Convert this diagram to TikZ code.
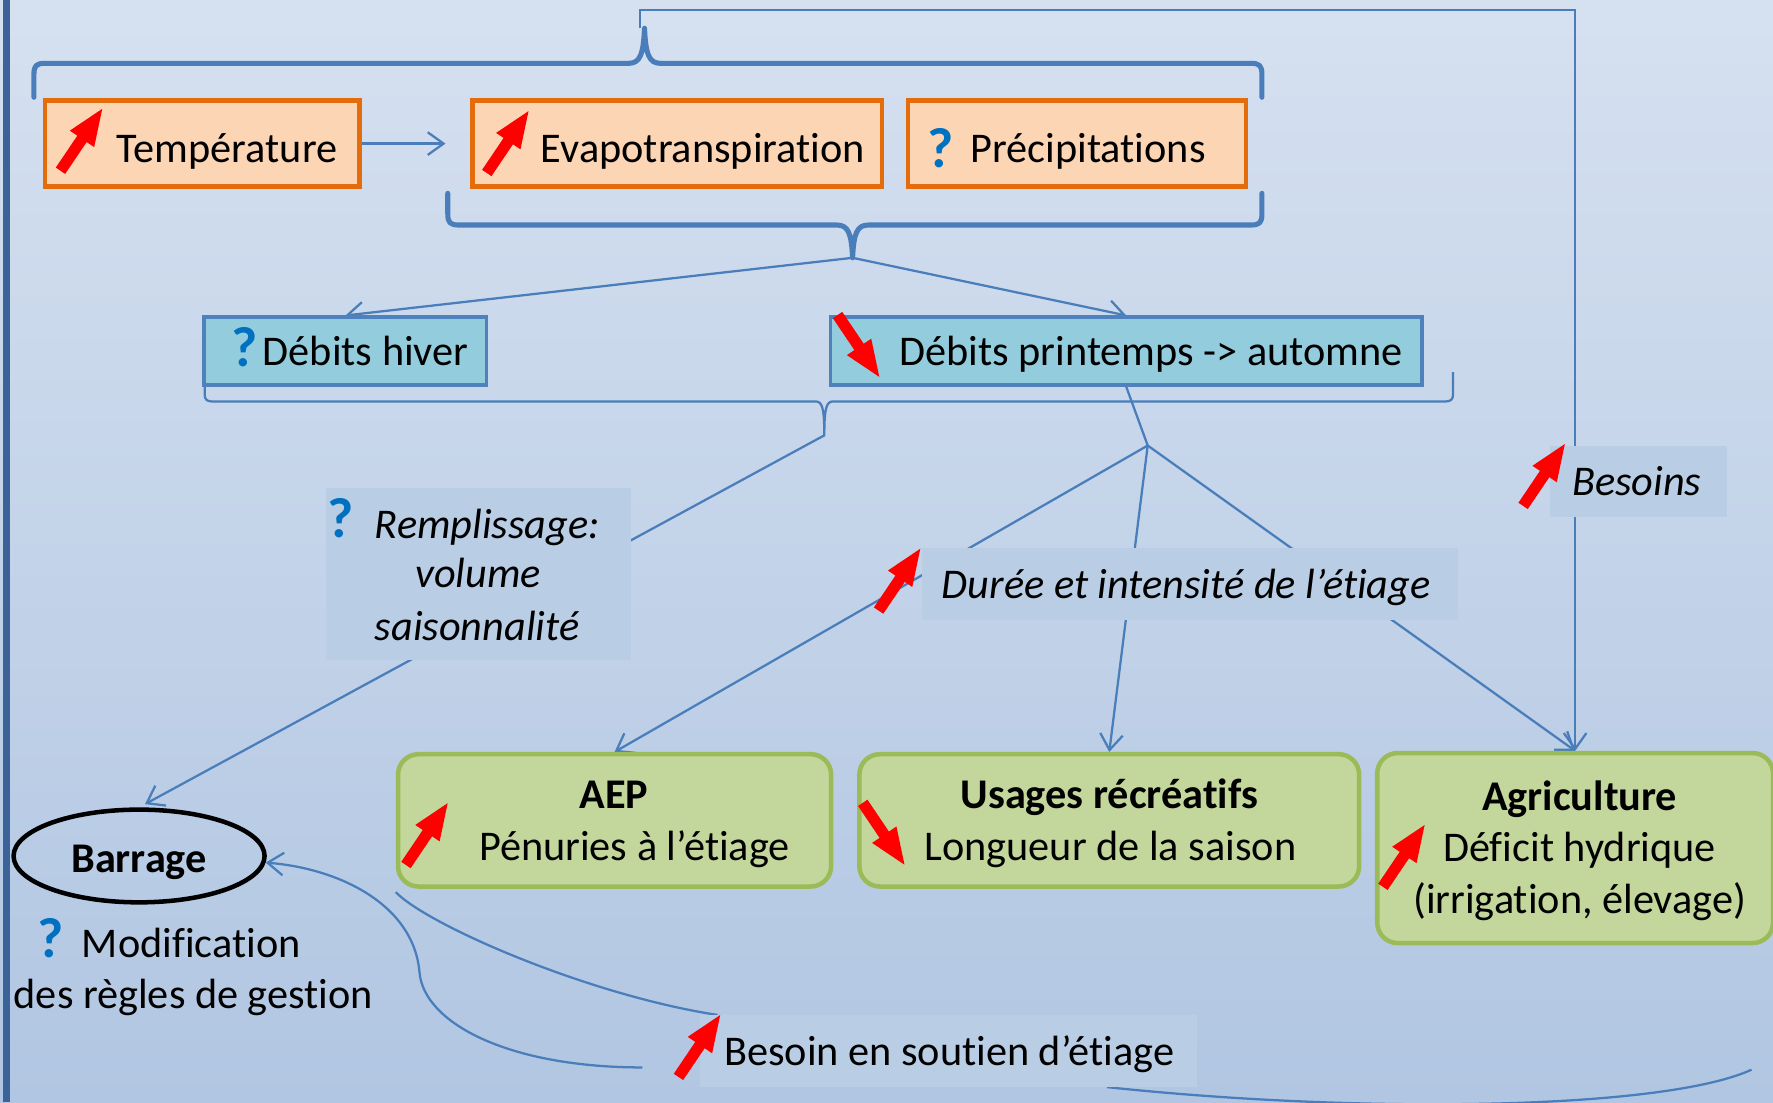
\documentclass[tikz,border=0pt]{standalone}
\usepackage{fontspec}
\setmainfont{Carlito}[RawFeature={-liga;-clig;-calt}]
\usetikzlibrary{arrows.meta,shapes.geometric,calc}
\definecolor{bgtop}{HTML}{E8EEF7}
\definecolor{bgmid}{HTML}{B1C6E2}
\definecolor{bgbot}{HTML}{B8CBE5}
\definecolor{barblue}{HTML}{3B6399}
\definecolor{linkblue}{HTML}{4A7EBB}
\definecolor{ofill}{HTML}{FCD5B5}
\definecolor{oborder}{HTML}{E46C0A}
\definecolor{bfill}{HTML}{93CDDD}
\definecolor{bborder}{HTML}{4F81BD}
\definecolor{gfill}{HTML}{C3D69B}
\definecolor{gborder}{HTML}{9BBB59}
\definecolor{lblfill}{HTML}{B9CDE5}
\definecolor{qblue}{HTML}{0070C0}
\pgfdeclareverticalshading{bgshade}{100bp}{color(0bp)=(bgbot); color(25bp)=(bgmid); color(100bp)=(bgtop)}
\pgfdeclarelayer{bgl}
\pgfdeclarelayer{conns}
\pgfsetlayers{bgl,conns,main}
\newcommand\mainsz{\fontsize{18.7}{22}\selectfont}
\newcommand\qsz{\fontsize{25}{30}\selectfont}
\tikzset{redarr/.pic={\fill[red] (0,-5) -- (34,-5) -- (34,-13) -- (66,0) -- (34,13) -- (34,5) -- (0,5) -- cycle;}}
\begin{document}
\begin{tikzpicture}[x=0.5pt,y=-0.5pt,
  obox/.style={draw=oborder, fill=ofill, line width=2pt, inner sep=0pt, minimum height=38pt},
  bbox/.style={draw=bborder, fill=bfill, line width=1.5pt, inner sep=0pt, minimum height=30pt},
  gbox/.style={draw=gborder, fill=gfill, line width=2pt, rounded corners=9pt, inner sep=0pt},
  lbl/.style={fill=lblfill, inner sep=0pt, minimum height=31.5pt},
  txt/.style={inner sep=0pt, anchor=base west, font=\mainsz},
  ctxt/.style={inner sep=0pt, anchor=base, font=\mainsz},
  qm/.style={inner sep=0pt, anchor=base west, text=qblue, font=\qsz\bfseries},
  conn/.style={draw=linkblue, line width=1pt},
  arr/.style={conn, -{Straight Barb[length=7pt,width=10pt]}},
  bigbrace/.style={draw=linkblue, line width=2.25pt, line join=round, line cap=round},
  thinbrace/.style={draw=linkblue, line width=1pt, line join=round}]
\useasboundingbox (0,0) rectangle (1568,975);
\begin{pgfonlayer}{bgl}
\shade[shading=bgshade] (0,0) rectangle (1568,975);
\fill[barblue] (2.5,0) rectangle (9,975);
\end{pgfonlayer}

% main boxes
\node[obox, minimum width=139pt] (temp) at (179,127) {};
\node[obox, minimum width=181pt] (evapo) at (599,127) {};
\node[obox, minimum width=149.5pt] (precip) at (952.5,127) {};
\node[bbox, minimum width=125pt] (hiver) at (305.5,310.5) {};
\node[bbox, minimum width=261.5pt] (printemps) at (996,310.5) {};
\node[gbox, minimum width=191.5pt, minimum height=58.5pt] (aep) at (543.5,725.5) {};
\node[gbox, minimum width=221pt, minimum height=58.5pt] (usages) at (981,725.5) {};
\node[gbox, minimum width=175pt, minimum height=84pt] (agri) at (1393,750) {};
\node[ellipse, draw=black, line width=2pt, minimum width=111pt, minimum height=41pt, inner sep=0pt] (barrage) at (123,757) {};

% label boxes
\node[lbl, minimum width=135pt, minimum height=76pt] (rempl) at (423,508) {};
\node[lbl, minimum width=237pt] (duree) at (1052,516.5) {};
\node[lbl, minimum width=78pt] (besoins) at (1449,425.5) {};
\node[lbl, minimum width=220pt] (soutien) at (839,929.5) {};

% brace tips and junctions
\coordinate (b1tip) at (570,25);
\coordinate (b2tip) at (754,228);
\coordinate (b3tip) at (729,385);
\coordinate (junc) at (1015,394);
\coordinate (fbstart) at (566,25);
\coordinate (fbcorner) at (566,9);
\coordinate (c2start) at (568,944);
\coordinate (c3start) at (1549,946);

\begin{pgfonlayer}{conns}
\draw[bigbrace] (30,86) -- (30,66) .. controls (30,58) and (32,56) .. (40,56) -- (556,56)
  .. controls (566,56) and (569,48) .. (b1tip) .. controls (571,48) and (574,56) .. (584,56)
  -- (1106,56) .. controls (1114,56) and (1116,58) .. (1116,66) -- (1116,86);
\draw[bigbrace] (396,171) -- (396,189) .. controls (396,197) and (398,199) .. (406,199) -- (740,199)
  .. controls (750,199) and (753,206) .. (b2tip) .. controls (755,206) and (758,199) .. (768,199)
  -- (1106,199) .. controls (1114,199) and (1116,197) .. (1116,189) -- (1116,171);
\draw[thinbrace] (181,342) -- (181,349) .. controls (181,353) and (183,355) .. (187,355) -- (721,355)
  .. controls (727,355) and (729,360) .. (b3tip) .. controls (729,360) and (731,355) .. (737,355)
  -- (1279,355) .. controls (1283,355) and (1285,353) .. (1285,349) -- (1285,329);

\draw[arr, shorten >=11pt] (temp.east) -- (evapo.west);
\draw[arr] (b2tip) -- (hiver.north);
\draw[arr] (b2tip) -- (printemps.north);
\draw[conn] (printemps.south) -- (junc);
\draw[arr] (junc) -- (aep.north);
\draw[arr] (junc) -- (usages.north);
\draw[arr] (junc) -- (agri.north);
\draw[arr, shorten >=3pt] (b3tip) -- (barrage.north);
\draw[arr] (fbstart) -- (fbcorner) -| (agri.north);
\draw[conn] ([yshift=-1.5pt]aep.south west) .. controls (378,818) and (520,880) .. ([xshift=8pt]soutien.north west);
\draw[arr] (c2start) .. controls (450,944) and (375,905) .. (371,860) .. controls (366,800) and (300,768) .. (barrage.-3);
\draw[conn] (c3start) .. controls (1470,982) and (1200,985) .. ([xshift=70pt]soutien.south);
\end{pgfonlayer}

% texts
\node[txt] (t-temp) at (103,144) {Température};
\node[txt] (t-evapo) at (478,144) {Evapotranspiration};
\node[qm] (q-precip) at (820,148) {?};
\node[txt] (t-precip) at (858,144) {Précipitations};
\node[qm] (q-hiver) at (204,324) {?};
\node[txt] (t-hiver) at (232,323) {Débits hiver};
\node[txt] (t-print) at (795,323) {Débits printemps -> automne};
\node[qm] (q-rempl) at (289,475) {?};
\node[ctxt, font=\mainsz\itshape] (t-rempl1) at (431,476) {Remplissage:};
\node[ctxt, font=\mainsz\itshape] (t-rempl2) at (423,520) {volume};
\node[ctxt, font=\mainsz\itshape] (t-rempl3) at (422,566) {saisonnalité};
\node[ctxt, font=\mainsz\itshape] (t-duree) at (1049,529) {Durée et intensité de l’étiage};
\node[txt, font=\mainsz\itshape] (t-besoins) at (1390,438) {Besoins};
\node[ctxt, font=\mainsz\bfseries] (t-aep1) at (543,715) {AEP};
\node[ctxt] (t-aep2) at (561,761) {Pénuries à l’étiage};
\node[ctxt, font=\mainsz\bfseries] (t-us1) at (981,715) {Usages récréatifs};
\node[ctxt] (t-us2) at (982,761) {Longueur de la saison};
\node[ctxt, font=\mainsz\bfseries] (t-ag1) at (1397,717) {Agriculture};
\node[ctxt] (t-ag2) at (1397,762) {Déficit hydrique};
\node[ctxt] (t-ag3) at (1397,808) {(irrigation, élevage)};
\node[ctxt, font=\mainsz\bfseries] (t-barrage) at (123,772) {Barrage};
\node[qm] (q-modif) at (33,847) {?};
\node[txt] (t-modif1) at (72,847) {Modification};
\node[ctxt] (t-modif2) at (171,892) {des règles de gestion};
\node[txt] (t-soutien) at (640,942) {Besoin en soutien d’étiage};

% red trend arrows
\pic[rotate=56] at (53.5,151) {redarr};
\pic[rotate=56] at (430.5,153) {redarr};
\pic[rotate=-56] at (740.7,278.6) {redarr};
\pic[rotate=56] at (777,540) {redarr};
\pic[rotate=56] at (1347,447.4) {redarr};
\pic[rotate=56] at (359,765) {redarr};
\pic[rotate=-56] at (763,710) {redarr};
\pic[rotate=56] at (1223,784.3) {redarr};
\pic[rotate=56] at (600,952.4) {redarr};
\end{tikzpicture}
\end{document}
